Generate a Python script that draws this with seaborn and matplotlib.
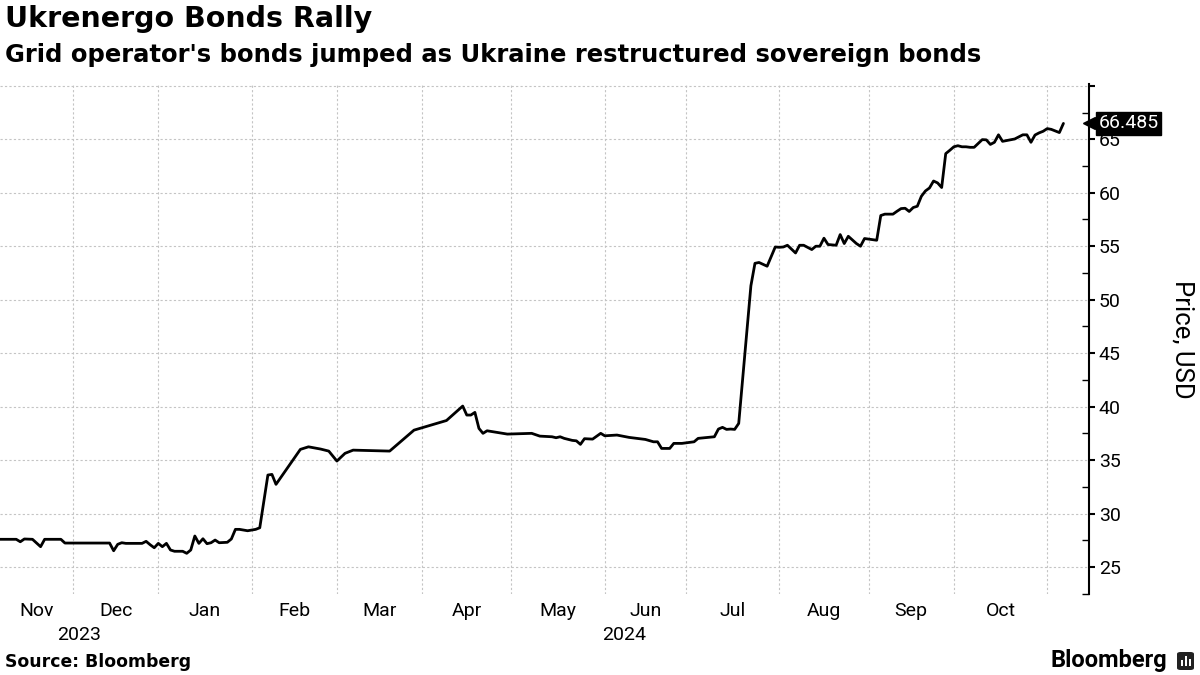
import numpy as np
import pandas as pd
import matplotlib
matplotlib.use("Agg")
import matplotlib.pyplot as plt
import matplotlib.transforms as mtransforms
from matplotlib.patches import FancyBboxPatch, Rectangle
from matplotlib.ticker import MultipleLocator
import seaborn as sns

# Ukrenergo bond price, USD
dates = [
    "2023-11-07", "2023-11-13", "2023-11-14", "2023-11-15", "2023-11-17", "2023-11-21",
    "2023-11-22", "2023-11-28", "2023-11-29", "2023-12-14", "2023-12-15", "2023-12-18",
    "2023-12-19", "2023-12-20", "2023-12-26", "2023-12-27", "2023-12-28", "2023-12-29",
    "2024-01-01", "2024-01-02", "2024-01-03", "2024-01-04", "2024-01-05", "2024-01-09",
    "2024-01-10", "2024-01-11", "2024-01-12", "2024-01-15", "2024-01-16", "2024-01-17",
    "2024-01-18", "2024-01-19", "2024-01-22", "2024-01-24", "2024-01-25", "2024-01-26",
    "2024-01-29", "2024-01-31", "2024-02-02", "2024-02-05", "2024-02-07", "2024-02-08",
    "2024-02-09", "2024-02-19", "2024-02-21", "2024-02-26", "2024-02-28", "2024-03-01",
    "2024-03-05", "2024-03-07", "2024-03-20", "2024-03-28", "2024-04-09", "2024-04-15",
    "2024-04-16", "2024-04-17", "2024-04-18", "2024-04-19", "2024-04-22", "2024-04-23",
    "2024-04-30", "2024-05-08", "2024-05-10", "2024-05-15", "2024-05-16", "2024-05-17",
    "2024-05-20", "2024-05-22", "2024-05-23", "2024-05-24", "2024-05-27", "2024-05-29",
    "2024-05-31", "2024-06-03", "2024-06-06", "2024-06-11", "2024-06-17", "2024-06-19",
    "2024-06-20", "2024-06-21", "2024-06-25", "2024-06-26", "2024-06-28", "2024-07-03",
    "2024-07-04", "2024-07-10", "2024-07-11", "2024-07-12", "2024-07-15", "2024-07-16",
    "2024-07-17", "2024-07-18", "2024-07-23", "2024-07-24", "2024-07-25", "2024-07-29",
    "2024-07-31", "2024-08-01", "2024-08-02", "2024-08-05", "2024-08-07", "2024-08-08",
    "2024-08-09", "2024-08-13", "2024-08-14", "2024-08-15", "2024-08-16", "2024-08-19",
    "2024-08-21", "2024-08-22", "2024-08-23", "2024-08-26", "2024-08-28", "2024-08-29",
    "2024-08-30", "2024-09-04", "2024-09-05", "2024-09-06", "2024-09-10", "2024-09-11",
    "2024-09-12", "2024-09-13", "2024-09-16", "2024-09-17", "2024-09-18", "2024-09-19",
    "2024-09-20", "2024-09-23", "2024-09-24", "2024-09-25", "2024-09-26", "2024-09-27",
    "2024-09-30", "2024-10-01", "2024-10-02", "2024-10-03", "2024-10-04", "2024-10-07",
    "2024-10-08", "2024-10-10", "2024-10-11", "2024-10-14", "2024-10-15", "2024-10-16",
    "2024-10-17", "2024-10-18", "2024-10-21", "2024-10-22", "2024-10-24", "2024-10-25",
    "2024-10-28", "2024-10-29", "2024-10-30", "2024-10-31", "2024-11-01", "2024-11-04",
    "2024-11-06", "2024-11-07",
]
prices = [
    27.59, 27.59, 27.36, 27.62, 27.59, 26.90,
    27.59, 27.59, 27.24, 27.24, 26.52, 27.12,
    27.27, 27.21, 27.21, 27.40, 27.08, 26.80,
    27.21, 26.90, 27.21, 26.59, 26.47, 26.47,
    26.28, 26.59, 27.90, 27.21, 27.64, 27.18,
    27.27, 27.52, 27.27, 27.31, 27.62, 28.52,
    28.52, 28.39, 28.52, 28.67, 33.60, 33.66,
    32.73, 36.00, 36.24, 36.03, 35.84, 34.91,
    35.63, 35.93, 35.84, 37.80, 38.70, 40.05,
    39.21, 39.21, 39.46, 37.96, 37.50, 37.74,
    37.43, 37.50, 37.24, 37.18, 37.09, 37.18,
    37.03, 36.84, 36.80, 36.47, 37.00, 36.96,
    37.50, 37.27, 37.34, 37.12, 36.93, 36.71,
    36.71, 36.09, 36.09, 36.56, 36.56, 36.71,
    37.03, 37.18, 37.90, 38.06, 37.87, 37.90,
    37.87, 38.43, 51.30, 53.40, 53.48, 53.13,
    54.93, 54.90, 54.93, 55.09, 54.37, 55.09,
    55.09, 54.69, 55.00, 55.00, 55.75, 55.16,
    55.09, 56.09, 55.25, 55.93, 55.25, 55.00,
    55.72, 55.56, 57.87, 58.00, 58.00, 58.27,
    58.52, 58.55, 58.25, 58.62, 58.74, 59.67,
    60.17, 60.45, 61.10, 60.92, 60.49, 63.66,
    63.97, 64.30, 64.40, 64.30, 64.30, 64.25,
    64.25, 64.97, 64.95, 64.52, 64.72, 65.42,
    64.81, 64.88, 64.95, 65.03, 65.42, 65.42,
    64.72, 65.40, 65.60, 65.75, 66.00, 65.93,
    65.63, 66.485,
]
last_label = "66.485"

month_starts = ["2023-11-01", "2023-12-01", "2024-01-01", "2024-02-01", "2024-03-01",
                "2024-04-01", "2024-05-01", "2024-06-01", "2024-07-01", "2024-08-01",
                "2024-09-01", "2024-10-01", "2024-11-01"]
month_labels = ["Nov", "Dec", "Jan", "Feb", "Mar", "Apr", "May", "Jun", "Jul", "Aug", "Sep", "Oct"]
year_starts = ["2024-01-01"]
year_labels = ["2023", "2024"]

title = "Ukrenergo Bonds Rally"
subtitle = "Grid operator's bonds jumped as Ukraine restructured sovereign bonds"
source = "Source: Bloomberg"

# business-day axis, like the terminal charts
origin = "2023-12-01"
def bpos(d):
    return np.busday_count(origin, np.array(d, dtype="datetime64[D]")).astype(float)

df = pd.DataFrame({"x": bpos(dates), "price": prices})

sns.set_style("white")
plt.rcParams["font.family"] = ["Roboto", "DejaVu Sans"]
plt.rcParams["text.color"] = "black"
plt.rcParams["xtick.color"] = "black"
plt.rcParams["ytick.color"] = "black"
plt.rcParams["xtick.labelcolor"] = "black"
plt.rcParams["ytick.labelcolor"] = "black"

fig = plt.figure(figsize=(12, 6.75), dpi=100)
ax = fig.add_axes([0, 0.1204, 0.9075, 0.7556])

sns.lineplot(data=df, x="x", y="price", ax=ax, color="black", linewidth=2,
             estimator=None, sort=False)

x_left = df.x.iloc[0]
x_right = bpos("2024-11-01") + 10.3
ax.set_xlim(x_left, x_right)
ax.set_ylim(22.5, 70.2)

# month gridlines + labels centred in the visible part of each month
bounds = bpos(month_starts)
ax.set_xticks([b for b in bounds if x_left < b < x_right])
ax.set_xticklabels([])
centers = []
for i in range(len(month_labels)):
    a = max(bounds[i], x_left)
    b = min(bounds[i + 1], x_right)
    centers.append((a + b) / 2)
ax.set_xticks(centers, minor=True)
ax.set_xticklabels(month_labels, minor=True, fontsize=14)
ax.tick_params(axis="x", which="both", length=0, pad=6)

yb = [x_left] + list(bpos(year_starts)) + [x_right]
trans = mtransforms.blended_transform_factory(ax.transData, fig.transFigure)
for i, lab in enumerate(year_labels):
    fig.text((yb[i] + yb[i + 1]) / 2, 1 - 635 / 675, lab, transform=trans,
             ha="center", va="center", fontsize=14)

# y axis on the right
ax.yaxis.tick_right()
ax.yaxis.set_major_locator(MultipleLocator(5))
ax.yaxis.set_minor_locator(MultipleLocator(2.5))
yt = np.arange(25, 71, 5)
ax.set_yticks(yt)
ax.set_yticklabels([str(v) if v < 70 else "" for v in yt], fontsize=14)
ax.tick_params(axis="y", which="major", direction="out", length=4, width=1.5, pad=3)
ax.tick_params(axis="y", which="minor", direction="in", length=5, width=1)
ax.set_xlabel("")
ax.set_ylabel("")

for s in ["left", "top", "bottom"]:
    ax.spines[s].set_visible(False)
ax.spines["right"].set_color("black")
ax.spines["right"].set_linewidth(1.5)

ax.grid(True, which="major", color="#c4c4c4", linestyle=(0, (2, 2)), linewidth=0.8)
ax.set_axisbelow(True)

# last value tag
ax.plot([1.0], [prices[-1]], marker="<", color="black", markersize=9,
        transform=mtransforms.blended_transform_factory(ax.transAxes, ax.transData),
        clip_on=False, zorder=5)
ax.annotate(last_label, xy=(1.0, prices[-1]),
            xycoords=("axes fraction", "data"), xytext=(7, 0), textcoords="offset points",
            ha="left", va="center", color="white", fontsize=14, zorder=6,
            bbox=dict(boxstyle="square,pad=0.12", fc="black", ec="black"))

fig.text(1183 / 1200, 1 - 339 / 675, "Price, USD", rotation=270, ha="center",
         va="center", fontsize=18.5)

fig.text(0.004, 1 - 5 / 675, title, fontsize=20.5, fontweight="bold", va="top",
         family=["DejaVu Sans"])
fig.text(0.004, 1 - 43 / 675, subtitle, fontsize=17.5, fontweight="bold", va="top",
         family=["DejaVu Sans"])
fig.text(0.004, 1 - 662 / 675, source, fontsize=12.4, fontweight="bold", va="center",
         family=["DejaVu Sans"])
fig.text(1167 / 1200, 1 - 661 / 675, "Bloomberg", fontsize=17, fontweight="bold",
         ha="right", va="center", family=["Roboto"])

# small logo square
fig.add_artist(FancyBboxPatch((1177 / 1200, 1 - 670 / 675), 17 / 1200, 18 / 675,
                              boxstyle="round,pad=0,rounding_size=0.003",
                              transform=fig.transFigure, fc="#222222", ec="none"))
for bx, bh in [(1181, 6), (1185, 10), (1189, 7)]:
    fig.add_artist(Rectangle((bx / 1200, 1 - 666 / 675), 2 / 1200, bh / 675,
                             transform=fig.transFigure, fc="white", ec="none"))

fig.savefig("out.png", dpi=100)
